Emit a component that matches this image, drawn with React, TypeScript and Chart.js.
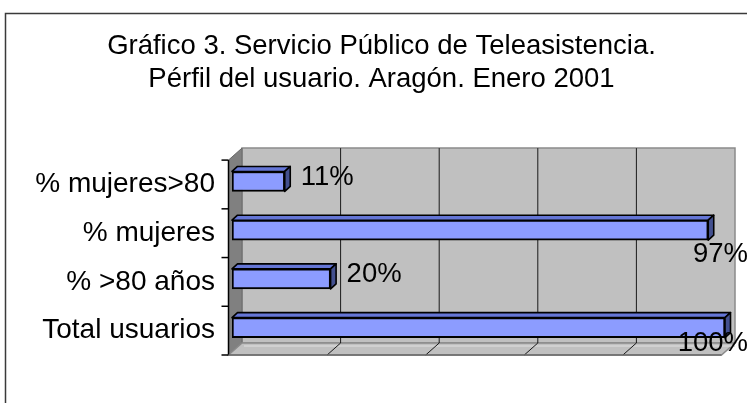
import React, { useEffect, useRef } from 'react';
import { Chart, registerables } from 'chart.js';

Chart.register(...registerables);

const titleLines = ['Gráfico 3. Servicio Público de Teleasistencia.', 'Pérfil del usuario. Aragón. Enero 2001'];
const categories = ['% mujeres>80', '% mujeres', '% >80 años', 'Total usuarios'];
const values = [10.7, 96.6, 20, 100];
const gridValues = [20, 40, 60, 80];
const axisMin = 0;
const axisMax = 100;

const FONT = '"Liberation Sans", Arial, Helvetica, sans-serif';
const FRONT = { dx: -3.5, dy: 3 };
const BACK = { dx: 10, dy: -9 };
const BAR_DEPTH = { dx: 5.5, dy: -5 };
const TITLE_LEFT = 38;

const poly = (ctx: CanvasRenderingContext2D, pts: number[][], fill: string | null, stroke: string | null, lw = 1) => {
  ctx.beginPath();
  ctx.moveTo(pts[0][0], pts[0][1]);
  for (let i = 1; i < pts.length; i++) ctx.lineTo(pts[i][0], pts[i][1]);
  ctx.closePath();
  if (fill) {
    ctx.fillStyle = fill;
    ctx.fill();
  }
  if (stroke) {
    ctx.strokeStyle = stroke;
    ctx.lineWidth = lw;
    ctx.stroke();
  }
};

const line = (ctx: CanvasRenderingContext2D, x1: number, y1: number, x2: number, y2: number, color: string, lw = 1) => {
  ctx.beginPath();
  ctx.moveTo(x1, y1);
  ctx.lineTo(x2, y2);
  ctx.strokeStyle = color;
  ctx.lineWidth = lw;
  ctx.stroke();
};

const plot3d = {
  id: 'plot3d',
  afterLayout(chart: any) {
    if (chart.titleBlock) chart.titleBlock.left = TITLE_LEFT;
  },
  beforeDraw(chart: any) {
    const { ctx } = chart;
    ctx.save();
    ctx.fillStyle = '#ffffff';
    ctx.fillRect(0, 0, chart.width, chart.height);
    ctx.strokeStyle = '#3a3a3a';
    ctx.lineWidth = 1.5;
    ctx.strokeRect(5.5, 13.5, chart.width + 20, chart.height + 20);
    ctx.restore();
  },
  beforeDatasetsDraw(chart: any) {
    const { ctx, chartArea: a, scales } = chart;
    const xs = scales.x;
    const p0 = xs.getPixelForValue(axisMin);
    const p1 = xs.getPixelForValue(axisMax);
    const fl = p0 + FRONT.dx, fr = p1 + FRONT.dx, ft = a.top + FRONT.dy, fb = a.bottom + FRONT.dy;
    const bl = p0 + BACK.dx, br = p1 + BACK.dx, bt = a.top + BACK.dy, bb = a.bottom + BACK.dy;
    ctx.save();
    poly(ctx, [[bl, bt], [br, bt], [br, bb], [bl, bb]], '#c0c0c0', '#8a8a8a', 1.5);
    poly(ctx, [[fl, ft], [bl, bt], [bl, bb], [fl, fb]], '#808080', '#6a6a6a', 1);
    poly(ctx, [[fl, fb], [bl, bb], [br, bb], [fr, fb]], '#c0c0c0', '#8a8a8a', 1.5);
    line(ctx, bl + 2, bb + 3, br, bb + 3, '#d6d6d6', 1.5);
    gridValues.forEach((v) => {
      const p = xs.getPixelForValue(v);
      line(ctx, p + BACK.dx, bt, p + BACK.dx, bb, '#1a1a1a', 1);
      line(ctx, p + BACK.dx, bb, p + FRONT.dx, fb, '#1a1a1a', 1);
    });
    line(ctx, fl, ft, fl, fb, '#000', 1.5);
    const n = categories.length;
    for (let i = 0; i <= n; i++) {
      const yy = a.top + (i * a.height) / n + FRONT.dy;
      line(ctx, fl - 7, yy, fl, yy, '#000', 1.5);
    }
    line(ctx, fl, fb, fr, fb, '#6a6a6a', 1.5);
    ctx.restore();
  },
  afterDatasetsDraw(chart: any) {
    const { ctx, chartArea: a } = chart;
    const meta = chart.getDatasetMeta(0);
    ctx.save();
    ctx.lineJoin = 'round';
    meta.data.forEach((el: any) => {
      const { x, y, base, height } = el.getProps(['x', 'y', 'base', 'height'], true);
      const top = y - height / 2;
      const bottom = y + height / 2;
      poly(ctx, [[base, top], [x, top], [x + BAR_DEPTH.dx, top + BAR_DEPTH.dy], [base + BAR_DEPTH.dx, top + BAR_DEPTH.dy]], '#6576d6', '#000', 1.6);
      poly(ctx, [[x, top], [x + BAR_DEPTH.dx, top + BAR_DEPTH.dy], [x + BAR_DEPTH.dx, bottom + BAR_DEPTH.dy], [x, bottom]], '#43508f', '#000', 1.6);
    });
    ctx.font = `27.5px ${FONT}`;
    ctx.fillStyle = '#000';
    ctx.textAlign = 'left';
    ctx.textBaseline = 'middle';
    meta.data.forEach((el: any, i: number) => {
      const { x, y } = el.getProps(['x', 'y'], true);
      const text = Math.round(values[i]) + '%';
      const w = ctx.measureText(text).width;
      let lx = x + 16;
      let ly = y - 4;
      if (lx + w > chart.width) {
        lx = chart.width + 1 - w;
        ly = Math.min(y + 24, a.bottom + FRONT.dy - 12);
      }
      ctx.fillText(text, lx, ly);
    });
    ctx.restore();
  },
};

export default function App() {
  const ref = useRef<HTMLCanvasElement | null>(null);
  useEffect(() => {
    if (!ref.current) return;
    const chart = new Chart(ref.current, {
      type: 'bar',
      data: {
        labels: categories,
        datasets: [
          {
            data: values,
            backgroundColor: '#8c9cff',
            borderColor: '#000000',
            borderWidth: 2,
            borderSkipped: false,
            barThickness: 20,
          },
        ],
      },
      options: {
        indexAxis: 'y',
        responsive: false,
        animation: false,
        layout: { padding: { left: 0, right: 22, top: 0, bottom: 51 } },
        plugins: {
          legend: { display: false },
          tooltip: { enabled: false },
          title: {
            display: true,
            text: titleLines,
            color: '#000',
            font: { family: FONT, size: 27.5, weight: 'normal', lineHeight: 1.2 },
            padding: { top: 29.5, bottom: 61.6 },
          },
        },
        scales: {
          x: { display: false, min: axisMin, max: axisMax },
          y: {
            grid: { display: false, drawTicks: false },
            border: { display: false },
            ticks: { color: '#000', font: { family: FONT, size: 28 }, padding: 17, labelOffset: 3 },
            afterFit: (s: any) => {
              s.width = 232;
            },
          },
        },
      },
      plugins: [plot3d],
    } as any);
    return () => chart.destroy();
  }, []);
  return (
    <div style={{ position: 'absolute', left: 0, top: 0, width: 747, height: 403 }}>
      <canvas ref={ref} width={747} height={403} style={{ display: 'block' }} />
    </div>
  );
}
